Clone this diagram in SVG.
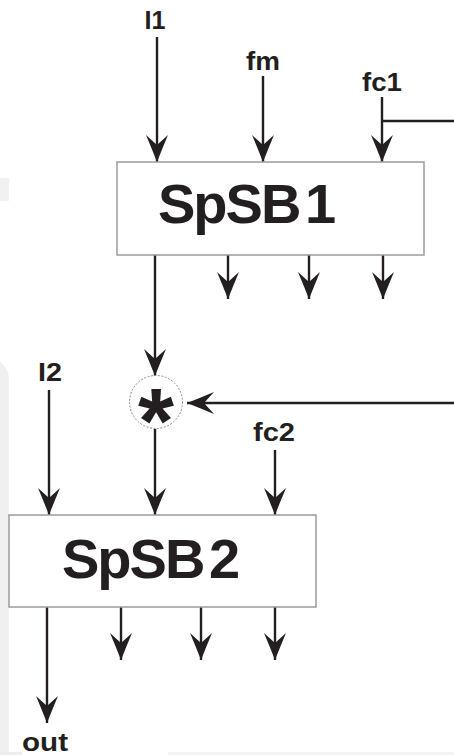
<svg xmlns="http://www.w3.org/2000/svg" width="454" height="755" viewBox="0 0 454 755">
  <style>
    .box { fill: #ffffff; stroke: #9c9c9c; stroke-width: 1.5; }
    .title { font-family: "Liberation Sans", Arial, sans-serif; font-weight: bold; font-size: 56px; fill: #231f20; letter-spacing: -2px; word-spacing: -8px; }
    .lbl { font-family: "Liberation Sans", Arial, sans-serif; font-weight: bold; font-size: 25px; fill: #231f20; text-anchor: middle; }
    .wire { fill: none; stroke: #231f20; stroke-width: 2.4; }
    .arrow { marker-end: url(#head); }
  </style>
  <defs>
    <marker id="head" markerUnits="userSpaceOnUse" markerWidth="32" markerHeight="28" viewBox="-29 -14 32 28" refX="0" refY="0" orient="auto">
      <path d="M0,0 Q-14,-5.5 -27,-11 L-17,0 L-27,11 Q-14,5.5 0,0 Z" fill="#231f20"/>
    </marker>
  </defs>

  <!-- page background with faint scan edge -->
  <rect x="0" y="0" width="454" height="755" fill="#ffffff"/>
  <rect x="0" y="178" width="9" height="23" fill="#f1f1f1"/>
  <path d="M0,362 Q9,368 9,380 V755 H0 Z" fill="#f0f0f0"/>
  <rect x="0" y="752" width="22" height="3" fill="#ededed"/>
  <rect x="168" y="752" width="286" height="3" fill="#f3f3f3"/>

  <!-- connectors -->
  <g id="connectors">
    <line class="wire arrow" x1="157" y1="37" x2="157" y2="162"/>
    <line class="wire arrow" x1="263" y1="76" x2="263" y2="162"/>
    <line class="wire arrow" x1="382" y1="97" x2="382" y2="162"/>
    <!-- fc1 branch feeding the multiplier -->
    <path class="wire arrow" d="M382,121 H456 V403 H187"/>
    <!-- SpSB1 outputs -->
    <line class="wire arrow" x1="155" y1="255" x2="155" y2="376"/>
    <line class="wire arrow" x1="228" y1="255" x2="228" y2="299"/>
    <line class="wire arrow" x1="309" y1="255" x2="309" y2="299"/>
    <line class="wire arrow" x1="383" y1="255" x2="383" y2="299"/>
    <!-- into SpSB2 -->
    <line class="wire arrow" x1="49" y1="390" x2="49" y2="515"/>
    <line class="wire arrow" x1="155" y1="429" x2="155" y2="515"/>
    <line class="wire arrow" x1="275" y1="450" x2="275" y2="515"/>
    <!-- SpSB2 outputs -->
    <line class="wire arrow" x1="47" y1="607" x2="47" y2="723"/>
    <line class="wire arrow" x1="121" y1="607" x2="121" y2="660"/>
    <line class="wire arrow" x1="201" y1="607" x2="201" y2="660"/>
    <line class="wire arrow" x1="275" y1="607" x2="275" y2="660"/>
  </g>

  <!-- input / output labels -->
  <g id="labels">
    <text class="lbl" x="155" y="29" textLength="21" lengthAdjust="spacingAndGlyphs">I1</text>
    <text class="lbl" x="263" y="70" textLength="34" lengthAdjust="spacingAndGlyphs">fm</text>
    <text class="lbl" x="382" y="91" textLength="40" lengthAdjust="spacingAndGlyphs">fc1</text>
    <text class="lbl" x="50" y="381" textLength="24" lengthAdjust="spacingAndGlyphs">I2</text>
    <text class="lbl" x="274" y="441" textLength="42" lengthAdjust="spacingAndGlyphs">fc2</text>
    <text class="lbl" x="45" y="751" font-size="29" textLength="46" lengthAdjust="spacingAndGlyphs">out</text>
  </g>

  <g id="spsb1">
    <rect class="box" x="117" y="162" width="307" height="93"/>
    <text class="title" x="158" y="223">SpSB 1</text>
  </g>

  <g id="mult">
    <circle cx="156" cy="402" r="26.5" fill="#ffffff" stroke="#8a8a8a" stroke-width="1" stroke-dasharray="2 1.5"/>
    <text x="156" y="453" text-anchor="middle" font-family="'Liberation Sans', Arial, sans-serif" font-weight="bold" font-size="92" fill="#231f20" textLength="36" lengthAdjust="spacingAndGlyphs">*</text>
  </g>

  <g id="spsb2">
    <rect class="box" x="9" y="515" width="307" height="92"/>
    <text class="title" x="62" y="578">SpSB 2</text>
  </g>
</svg>
